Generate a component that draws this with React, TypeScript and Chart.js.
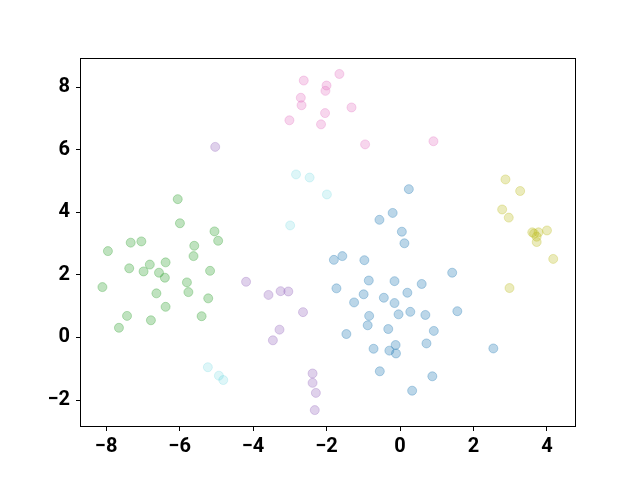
import React, { useEffect, useRef } from "react";
import { Chart, registerables } from "chart.js";

Chart.register(...registerables);

const xTicks = [-8, -6, -4, -2, 0, 2, 4];
const yTicks = [-2, 0, 2, 4, 6, 8];

const blueX = [0.24, -0.2, -0.56, 0.05, 0.12, -1.8, -1.57, -0.97, 1.42, -0.85, -0.15, 0.59, -1.73, -0.99, -0.44, 0.2, -1.25, -0.15, -0.84, -0.04, 0.28, 0.69, 1.56, -0.88, -0.32, 0.92, -1.46, -0.72, -0.29, -0.12, -0.11, 0.72, 2.54, -0.55, 0.88, 0.33];
const blueY = [4.74, 3.98, 3.76, 3.38, 3.01, 2.48, 2.6, 2.47, 2.07, 1.82, 1.8, 1.71, 1.57, 1.38, 1.27, 1.43, 1.12, 1.1, 0.69, 0.74, 0.82, 0.72, 0.84, 0.39, 0.27, 0.21, 0.11, -0.36, -0.42, -0.24, -0.51, -0.19, -0.35, -1.08, -1.24, -1.7];

const greenX = [-6.05, -5.99, -5.05, -4.95, -7.33, -7.04, -7.95, -5.6, -5.62, -7.37, -6.81, -6.38, -6.98, -6.56, -6.4, -5.17, -8.1, -5.8, -5.76, -6.63, -5.22, -6.38, -7.43, -6.78, -5.4, -7.65];
const greenY = [4.42, 3.65, 3.39, 3.09, 3.03, 3.07, 2.76, 2.93, 2.6, 2.21, 2.33, 2.4, 2.11, 2.07, 1.91, 2.13, 1.61, 1.76, 1.45, 1.41, 1.25, 0.98, 0.69, 0.55, 0.68, 0.31];

const purpleX = [-5.03, -4.19, -3.58, -3.25, -3.04, -2.64, -3.28, -3.46, -2.38, -2.38, -2.29, -2.32];
const purpleY = [6.09, 1.78, 1.36, 1.48, 1.47, 0.81, 0.25, -0.09, -1.15, -1.45, -1.77, -2.32];

const pinkX = [-1.65, -2.62, -2.0, -2.03, -2.7, -2.68, -1.32, -2.04, -3.01, -2.15, -0.95, 0.91];
const pinkY = [8.42, 8.21, 8.05, 7.88, 7.66, 7.42, 7.35, 7.17, 6.94, 6.81, 6.17, 6.27];

const oliveX = [2.87, 3.27, 2.78, 2.96, 3.6, 3.65, 3.72, 3.77, 3.72, 4.0, 4.17, 2.98];
const oliveY = [5.05, 4.68, 4.09, 3.83, 3.36, 3.32, 3.22, 3.36, 3.05, 3.42, 2.51, 1.58];

const cyanX = [-2.83, -2.46, -1.99, -2.99, -5.23, -4.93, -4.81];
const cyanY = [5.21, 5.11, 4.57, 3.58, -0.95, -1.22, -1.36];

const toPts = (xs: number[], ys: number[]) => xs.map((x, i) => ({ x, y: ys[i] }));
const minus = (v: number) => (v < 0 ? "\u2212" + Math.abs(v) : String(v));

const frame = {
  id: "frame",
  afterDraw(chart: any) {
    const { ctx, chartArea: a } = chart;
    ctx.save();
    ctx.strokeStyle = "#000";
    ctx.lineWidth = 1;
    ctx.strokeRect(a.left + 0.5, a.top + 0.5, a.right - a.left - 1, a.bottom - a.top - 1);
    ctx.restore();
  },
};

export default function App() {
  const ref = useRef<HTMLCanvasElement>(null);
  useEffect(() => {
    document.body.style.margin = "0";
    const mk = (xs: number[], ys: number[], rgb: string, a = 0.3) => ({
      data: toPts(xs, ys),
      backgroundColor: `rgba(${rgb},${a})`,
      borderColor: `rgba(${rgb},${a})`,
      borderWidth: 1,
      pointRadius: 4.5,
    });
    const tickFont = { family: "Roboto", weight: "bold" as const, size: 20 };
    const chart = new Chart(ref.current!, {
      type: "scatter",
      data: {
        datasets: [
          mk(blueX, blueY, "31,119,180"),
          mk(greenX, greenY, "44,160,44"),
          mk(purpleX, purpleY, "148,103,189"),
          mk(pinkX, pinkY, "227,119,194"),
          mk(oliveX, oliveY, "188,189,34"),
          mk(cyanX, cyanY, "23,190,207", 0.14),
        ],
      },
      options: {
        animation: false,
        responsive: false,
        layout: { padding: { left: 0, right: 64, top: 58, bottom: 0 } },
        plugins: { legend: { display: false }, tooltip: { enabled: false } },
        scales: {
          x: {
            type: "linear",
            min: -8.71,
            max: 4.79,
            afterBuildTicks: (ax: any) => { ax.ticks = xTicks.map((v) => ({ value: v })); },
            afterFit: (s: any) => { s.height = 53; },
            grid: { drawOnChartArea: false, tickLength: 4, color: "#000" },
            border: { display: false },
            ticks: { color: "#000", font: tickFont, padding: 4, maxRotation: 0, callback: (v: any) => minus(Number(v)) },
          },
          y: {
            type: "linear",
            min: -2.86,
            max: 8.93,
            afterBuildTicks: (ax: any) => { ax.ticks = yTicks.map((v) => ({ value: v })); },
            afterFit: (s: any) => { s.width = 80; },
            grid: { drawOnChartArea: false, tickLength: 4, color: "#000" },
            border: { display: false },
            ticks: { color: "#000", font: tickFont, padding: 6, callback: (v: any) => minus(Number(v)) },
          },
        },
      },
      plugins: [frame],
    });
    return () => chart.destroy();
  }, []);
  return (
    <div style={{ position: "absolute", left: 0, top: 0, width: 640, height: 480 }}>
      <canvas ref={ref} width={640} height={480} />
    </div>
  );
}
